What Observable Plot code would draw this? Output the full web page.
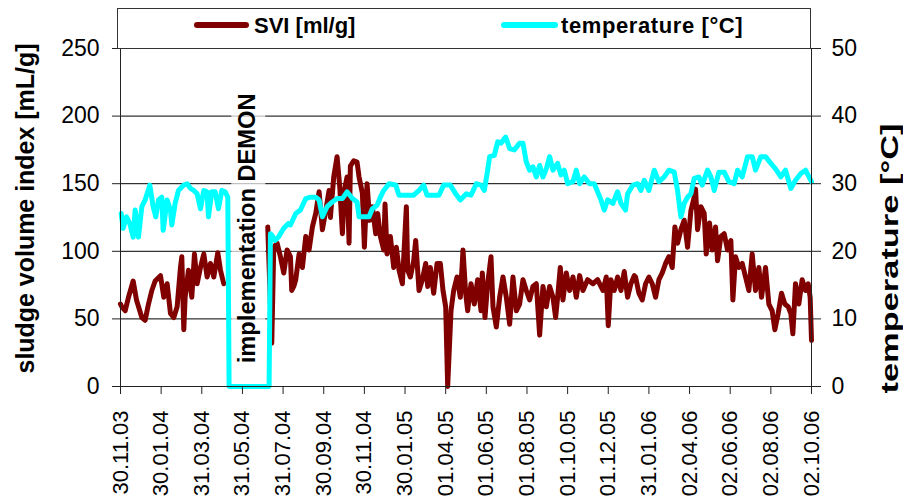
<!DOCTYPE html>
<html>
<head>
<meta charset="utf-8">
<script src="https://cdn.jsdelivr.net/npm/d3@7"></script>
<script src="https://cdn.jsdelivr.net/npm/@observablehq/plot@0.6"></script>
<style>
  html, body { margin: 0; padding: 0; background: white; }
  #chart { position: relative; width: 903px; height: 501px; font-family: 'Liberation Sans', Arial, sans-serif; }
  #legend { position: absolute; left: 117px; top: 8px; width: 694px; height: 41px; box-sizing: border-box; border: 1px solid #333; background: white; }
  .sw { position: absolute; height: 6px; border-radius: 3px; }
  .lt { position: absolute; font-weight: bold; font-size: 22px; line-height: 22px; color: black; white-space: nowrap; }
</style>
</head>
<body>
<div id="chart"></div>
<script>
// ---- data (x = days after 30.11.2003) ----
const startDate = "2003-11-30";
const endDate = "2006-10-02";
const tickDates = ["2003-11-30","2004-01-30","2004-03-31","2004-05-31","2004-07-31","2004-09-30","2004-11-30","2005-01-30","2005-04-01","2005-06-01","2005-08-01","2005-10-01","2005-12-01","2006-01-31","2006-04-02","2006-06-02","2006-08-02","2006-10-02"];
const tickLabels = ["30.11.03","30.01.04","31.03.04","31.05.04","31.07.04","30.09.04","30.11.04","30.01.05","01.04.05","01.06.05","01.08.05","01.10.05","01.12.05","31.01.06","02.04.06","02.06.06","02.08.06","02.10.06"];
const sviTicks = [0, 50, 100, 150, 200, 250];
const tempTicks = [0, 10, 20, 30, 40, 50];
const gridValues = [50, 100, 150, 200];

const sviDays = [0,2,7,12,19,24,32,37,42,47,52,60,65,70,75,80,85,90,92,95,97,102,107,111,115,120,125,130,135,140,146,150,155,
  188,
  221,227,230,235,240,245,250,255,257,
  260,263,268,273,278,283,288,293,298,303,308,313,315,320,325,329,333,336,340,343,345,350,355,358,363,366,370,374,378,383,386,390,395,397,400,405,410,414,418,423,429,431,435,440,443,448,453,458,461,465,470,475,480,484,488,491,496,500,505,510,514,
  518,521,526,531,536,541,543,547,551,556,559,564,569,574,579,584,589,594,599,604,609,614,619,624,629,634,639,644,649,653,656,660,664,669,674,679,684,689,694,701,709,716,724,729,732,736,741,746,751,756,761,766,771,
  773,778,783,788,793,798,803,808,813,818,823,828,832,836,841,846,851,856,861,863,866,871,876,879,884,888,893,896,901,906,911,916,919,923,928,933,938,943,948,953,958,962,968,973,978,982,987,992,997,1002,1006,1009,1013,1018,1023,1028,1032,1035,1037];
const sviValues = [61,59,56,66,78,64,51,49,61,71,78,82,66,76,54,51,59,88,96,42,66,86,66,98,76,88,98,81,91,81,99,86,76,
  null,
  118,32,103,106,96,84,101,96,71,
  74,79,98,88,111,101,118,128,144,116,130,145,125,155,170,148,113,145,155,106,163,167,166,155,143,103,150,123,133,113,128,111,101,135,98,111,88,103,86,76,133,86,81,93,108,71,79,91,74,88,69,91,91,71,59,0,56,71,81,66,101,
  69,56,76,61,79,56,84,51,76,96,59,44,66,81,66,46,81,56,61,79,71,64,74,76,38,74,59,74,66,51,66,88,64,84,71,81,66,82,71,79,76,79,71,81,45,79,71,81,71,85,66,76,82,
  81,69,64,76,81,76,66,79,84,91,96,88,118,106,116,123,103,130,140,146,116,133,128,98,121,101,118,93,111,113,101,108,64,96,88,91,81,71,98,71,88,66,88,61,56,42,54,69,61,59,54,39,76,61,79,71,76,66,34];

const tempDays = [1,4,9,14,19,22,27,32,37,44,49,53,57,62,64,70,75,77,82,87,95,100,105,110,115,120,125,130,132,137,142,147,152,157,161,163,223,225,227,232,237,245,252,
  255,263,270,278,285,293,298,303,310,318,325,333,340,348,355,358,365,373,378,385,390,395,403,413,418,428,440,448,455,460,470,478,485,495,503,510,
  514,519,526,534,541,546,551,554,561,566,571,578,584,591,599,604,609,614,619,624,629,634,639,644,649,656,661,666,671,679,684,689,696,704,711,716,721,726,731,739,746,751,758,761,769,776,
  781,786,793,801,808,816,823,831,836,841,846,851,856,861,868,873,881,886,891,898,906,913,921,926,933,941,948,953,961,968,976,983,991,998,1006,1013,1021,1028,1037];
const tempValues = [25.6,23.4,25.1,24.1,22.1,26.1,22.1,26.6,27.6,29.8,26.6,25.1,27.6,28,23.1,27.6,26.1,23.9,27.1,29,29.8,30,29.3,29,28.5,26.3,29,28.8,25.1,28.8,28.8,26.3,29,28.8,28,0,0,22.6,22.4,21.6,22.1,23.4,24.1,
  23.9,25.6,26.1,27.8,28,28,27.6,25.1,26.6,27.3,27.8,27.8,28.8,27.8,27.3,25.1,25.1,25.1,26.3,26.8,28,29,30,29.8,28.3,28.3,28.3,29,29.8,28.3,28.3,28.3,29.8,29.8,28.5,27.6,
  28,28.5,28.3,30,29.8,29,32,34,34.2,36.2,36,36.9,35.2,35,36,36,33.2,32,32.5,31,32.7,31,32.2,34,32,33,31.3,32,30,30.3,32,30,31,30,30,28.8,27.6,26.1,27.6,27.1,28.8,27.1,26.1,28.5,29.8,30,
  29,30.5,29,32,30.3,31,32,31.7,29,25.1,27.1,28,28.5,30.8,31,29.8,32,31,29,31.7,31.7,30.3,30,32,31,34,34,32,34,34,33,32.2,31,32,29.3,30.5,31.5,32,30.3];

const seriesNames = ["SVI [ml/g]", "temperature [°C]"];
const seriesColors = ["#800000", "#00FFFF"];
const leftTitle = "sludge volume index [mL/g]";
const rightTitle = "temperature [°C]";
const demonNote = {label: "implementation DEMON", day: 191, value: 117, boxStart: 167, boxEnd: 218, boxBottom: 2, boxTop: 232};

// ---- build ----
const t0 = new Date(startDate + "T00:00:00Z");
const toDate = d => new Date(t0.getTime() + d * 864e5);
const svi = sviDays.map((d, i) => ({date: toDate(d), value: sviValues[i]}));
const temp = tempDays.map((d, i) => ({date: toDate(d), value: tempValues[i]}));
const tScale = sviTicks[sviTicks.length - 1] / tempTicks[tempTicks.length - 1];

const plot = Plot.plot({
  width: 903, height: 501,
  marginLeft: 120, marginRight: 92, marginTop: 48, marginBottom: 115,
  style: {fontFamily: "'Liberation Sans', Arial, sans-serif", fontSize: "22px", color: "black", background: "transparent", overflow: "visible"},
  x: {type: "utc", domain: [new Date(startDate + "T00:00:00Z"), new Date(endDate + "T00:00:00Z")]},
  y: {domain: [sviTicks[0], sviTicks[sviTicks.length - 1]]},
  marks: [
    Plot.ruleY(gridValues, {stroke: "black", strokeWidth: 1, strokeOpacity: 1}),
    Plot.rect([demonNote], {x1: d => toDate(d.boxStart), x2: d => toDate(d.boxEnd), y1: "boxBottom", y2: "boxTop", fill: "white", fillOpacity: 0.7}),
    Plot.line(svi, {x: "date", y: "value", stroke: seriesColors[0], strokeWidth: 5, strokeLinejoin: "round", strokeLinecap: "round"}),
    Plot.line(temp, {x: "date", y: d => d.value * tScale, stroke: seriesColors[1], strokeWidth: 5, strokeLinejoin: "round", strokeLinecap: "round"}),
    Plot.text([demonNote], {x: d => toDate(d.day), y: "value", text: "label", rotate: -90, textAnchor: "middle", fontWeight: "bold", fontSize: 23, fill: "black"}),
    Plot.frame({stroke: "#222", strokeWidth: 1}),
    Plot.axisY({ticks: sviTicks, tickSize: 8, tickPadding: 13, label: null, stroke: "#222", fontSize: 23}),
    Plot.axisY({anchor: "right", ticks: tempTicks.map(t => t * tScale), tickFormat: d => String(d / tScale), tickSize: 9, tickPadding: 11, label: null, stroke: "#222", fontSize: 23}),
    Plot.axisX({ticks: tickDates.map(s => new Date(s + "T00:00:00Z")), tickFormat: (d, i) => tickLabels[i], tickRotate: -90, tickSize: 8, tickPadding: 16, label: null, stroke: "#222"}),
    Plot.text([leftTitle], {frameAnchor: "left", dx: -95, dy: -9, rotate: -90, textAnchor: "middle", fontWeight: "bold", fontSize: 25, fill: "black"}),
    Plot.text([rightTitle], {frameAnchor: "right", dx: 79, dy: 41, rotate: -90, textAnchor: "middle", fontWeight: "bold", fontSize: 24, fill: "black"})
  ]
});

const chart = document.getElementById("chart");
chart.appendChild(plot);

d3.select(plot).selectAll("text").each(function () {
  const t = this.textContent;
  if (t === leftTitle) d3.select(this).attr("textLength", 330).attr("lengthAdjust", "spacingAndGlyphs");
  if (t === rightTitle) d3.select(this).attr("textLength", 270).attr("lengthAdjust", "spacingAndGlyphs");
  if (t === demonNote.label) d3.select(this).attr("textLength", 270).attr("lengthAdjust", "spacingAndGlyphs");
});

// ---- legend (HTML) ----
const legend = document.createElement("div");
legend.id = "legend";
chart.appendChild(legend);
const items = [
  {name: seriesNames[0], color: seriesColors[0], swLeft: 76, swWidth: 55, textLeft: 136, spacing: 0},
  {name: seriesNames[1], color: seriesColors[1], swLeft: 383, swWidth: 57, textLeft: 443, spacing: 0.6}
];
items.forEach(it => {
  const sw = document.createElement("div");
  sw.className = "sw";
  sw.style.left = it.swLeft + "px";
  sw.style.top = "13px";
  sw.style.width = it.swWidth + "px";
  sw.style.background = it.color;
  legend.appendChild(sw);
  const tx = document.createElement("div");
  tx.className = "lt";
  tx.style.left = it.textLeft + "px";
  tx.style.top = "6px";
  tx.style.letterSpacing = it.spacing + "px";
  tx.textContent = it.name;
  legend.appendChild(tx);
});
</script>
</body>
</html>
